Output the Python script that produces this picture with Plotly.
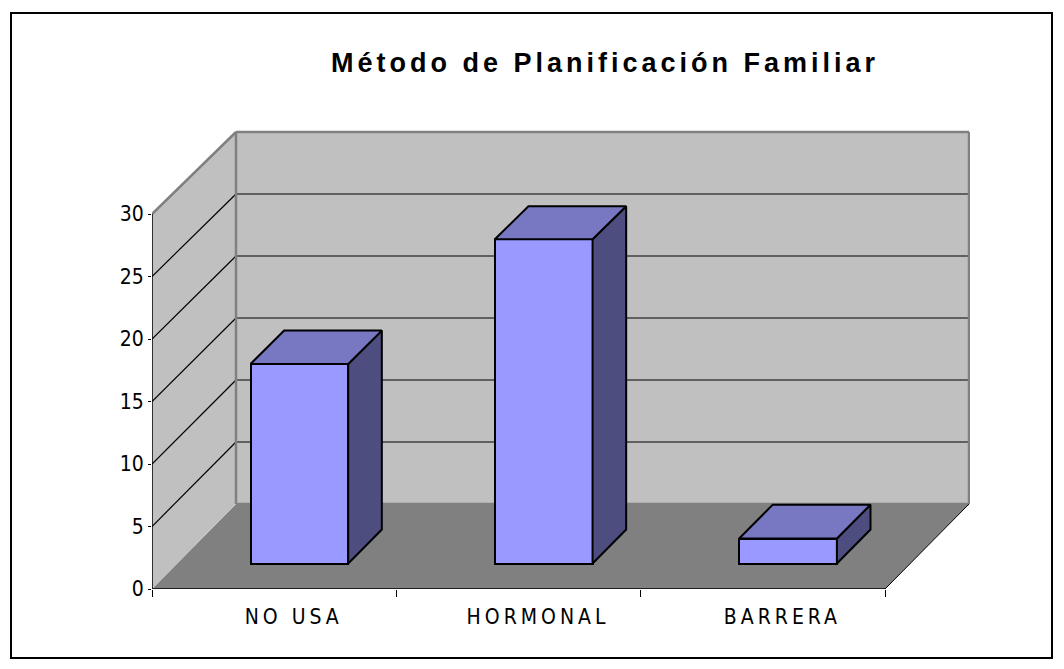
import plotly.graph_objects as go

# ---- data ----
categories = ["NO USA", "HORMONAL", "BARRERA"]
values = [16, 26, 2]
y_ticks = [0, 5, 10, 15, 20, 25, 30]
title_text = "Método de Planificación Familiar"

# ---- geometry (layout only) ----
OFF = 8                                   # default page body margin
W, H = 1064 - OFF, 669 - OFF
L, R, T, B = 152 - OFF, 970 - OFF, 130 - OFF, 589 - OFF   # plot area in pixels
cat_px = (885 - 152) / 3                  # pixels per category
val_px = 12.5                             # pixels per value unit (front plane)
DXu = 84 / cat_px                         # full-depth offset in x units
DYu = 85 / val_px                         # full-depth offset in y units
K = 0.008                                 # slight perspective shrink at the back
vmax = y_ticks[-1]
bar_w = 0.4
d1, d2 = 0.3, 0.7
x_lo = -0.5
x_hi = x_lo + len(categories)


def P(x, v, d):
    """oblique projection of (category x, value v, depth d) into the 2D axes"""
    return x + d * DXu, v * (1 - K * d) + d * DYu


def path(points):
    pts = [P(*p) for p in points]
    return "M " + " L ".join(f"{a:.5f},{b:.5f}" for a, b in pts) + " Z"


def line_path(p0, p1):
    a = P(*p0)
    b = P(*p1)
    return f"M {a[0]:.5f},{a[1]:.5f} L {b[0]:.5f},{b[1]:.5f}"


WALL = "#c0c0c0"
FLOOR = "#808080"
EDGE = "#808080"
FRONT = "#9999ff"
TOP = "#7777c2"
SIDE = "#4d4d80"

shapes = []
# floor
shapes.append(dict(type="path", layer="below", xref="x", yref="y",
                   path=path([(x_lo, 0, 0), (x_hi, 0, 0), (x_hi, 0, 1), (x_lo, 0, 1)]),
                   fillcolor=FLOOR, line=dict(width=0)))
# back wall
shapes.append(dict(type="path", layer="below", xref="x", yref="y",
                   path=path([(x_lo, 0, 1), (x_hi, 0, 1), (x_hi, vmax, 1), (x_lo, vmax, 1)]),
                   fillcolor=WALL, line=dict(width=0)))
# left wall
shapes.append(dict(type="path", layer="below", xref="x", yref="y",
                   path=path([(x_lo, 0, 0), (x_lo, 0, 1), (x_lo, vmax, 1), (x_lo, vmax, 0)]),
                   fillcolor=WALL, line=dict(width=0)))
# gridlines
for v in y_ticks[1:-1]:
    shapes.append(dict(type="path", layer="below", xref="x", yref="y",
                       path=line_path((x_lo, v, 1), (x_hi, v, 1)),
                       line=dict(color="black", width=1.2)))
    shapes.append(dict(type="path", layer="below", xref="x", yref="y",
                       path=line_path((x_lo, v, 0), (x_lo, v, 1)),
                       line=dict(color="black", width=1.2)))
# wall edges (gray)
for a, b in [((x_lo, 0, 1), (x_hi, 0, 1)), ((x_hi, 0, 1), (x_hi, vmax, 1)),
             ((x_hi, vmax, 1), (x_lo, vmax, 1)), ((x_lo, vmax, 1), (x_lo, 0, 1)),
             ((x_lo, vmax, 0), (x_lo, vmax, 1))]:
    shapes.append(dict(type="path", layer="below", xref="x", yref="y",
                       path=line_path(a, b), line=dict(color=EDGE, width=2.5)))
# floor right edge
shapes.append(dict(type="path", layer="below", xref="x", yref="y",
                   path=line_path((x_hi, 0, 0), (x_hi, 0, 1)),
                   line=dict(color="black", width=1)))
# axis lines (front)
shapes.append(dict(type="path", layer="below", xref="x", yref="y",
                   path=line_path((x_lo, 0, 0), (x_hi, 0, 0)),
                   line=dict(color="black", width=1.5)))
shapes.append(dict(type="path", layer="below", xref="x", yref="y",
                   path=line_path((x_lo, 0, 0), (x_lo, vmax, 0)),
                   line=dict(color="black", width=1.5)))


# chart frame
def px2paper_x(px):
    return (px - OFF - L) / (R - L)


def px2paper_y(py):
    return (B - (py - OFF)) / (B - T)


shapes.append(dict(type="rect", xref="paper", yref="paper", layer="above",
                   x0=px2paper_x(11), x1=px2paper_x(1052),
                   y0=px2paper_y(658), y1=px2paper_y(13),
                   line=dict(color="black", width=2), fillcolor="rgba(0,0,0,0)"))

fig = go.Figure()

# front faces of bars
xs = [i + d1 * DXu for i in range(len(categories))]
fig.add_trace(go.Bar(
    x=xs,
    y=[v * (1 - K * d1) for v in values],
    base=[d1 * DYu] * len(values),
    width=bar_w,
    marker=dict(color=FRONT, line=dict(color="black", width=2)),
    hoverinfo="skip", showlegend=False,
))

# top and side faces
for i, v in enumerate(values):
    x0, x1 = i - bar_w / 2, i + bar_w / 2
    top = [P(x0, v, d1), P(x1, v, d1), P(x1, v, d2), P(x0, v, d2), P(x0, v, d1)]
    side = [P(x1, 0, d1), P(x1, 0, d2), P(x1, v, d2), P(x1, v, d1), P(x1, 0, d1)]
    for pts, col in [(side, SIDE), (top, TOP)]:
        fig.add_trace(go.Scatter(
            x=[p[0] for p in pts], y=[p[1] for p in pts],
            mode="lines", fill="toself", fillcolor=col,
            line=dict(color="black", width=2),
            hoverinfo="skip", showlegend=False,
        ))

FONT = "DejaVu Sans Condensed, Liberation Sans Narrow, Liberation Sans, Arial, sans-serif"

fig.update_layout(
    width=W, height=H, autosize=False,
    margin=dict(l=L, r=W - R, t=T, b=H - B, pad=0),
    paper_bgcolor="white", plot_bgcolor="white",
    shapes=shapes,
    title=dict(
        text="<b><span style='letter-spacing:4px'>" + title_text + "</span></b>",
        x=px2paper_x(605), xref="paper", xanchor="center",
        y=1 - (63 - OFF) / H, yref="container", yanchor="middle",
        font=dict(family="Liberation Sans, Arial, sans-serif", size=27, color="black"),
    ),
    xaxis=dict(
        range=[x_lo, x_lo + (R - L) / cat_px],
        tickmode="array",
        tickvals=[i + 0.08 for i in range(len(categories))],
        ticktext=["<span style='letter-spacing:4px'>" + c + "</span>" for c in categories],
        ticks="", showgrid=False, zeroline=False, showline=False,
        ticklabelstandoff=13,
        minor=dict(tickmode="array", tickvals=[x_lo + k for k in range(len(categories) + 1)],
                   ticks="outside", ticklen=7, tickcolor="black", tickwidth=1, showgrid=False),
        tickfont=dict(family=FONT, size=21, color="black"),
        fixedrange=True,
    ),
    yaxis=dict(
        range=[0, (B - T) / val_px],
        tickmode="array", tickvals=y_ticks, ticktext=[str(t) for t in y_ticks],
        ticks="outside", ticklen=3, tickcolor="black", tickwidth=1,
        showgrid=False, zeroline=False, showline=False,
        tickfont=dict(family=FONT, size=21, color="black"),
        fixedrange=True,
    ),
    bargap=0,
)

fig.write_html("out.html")
